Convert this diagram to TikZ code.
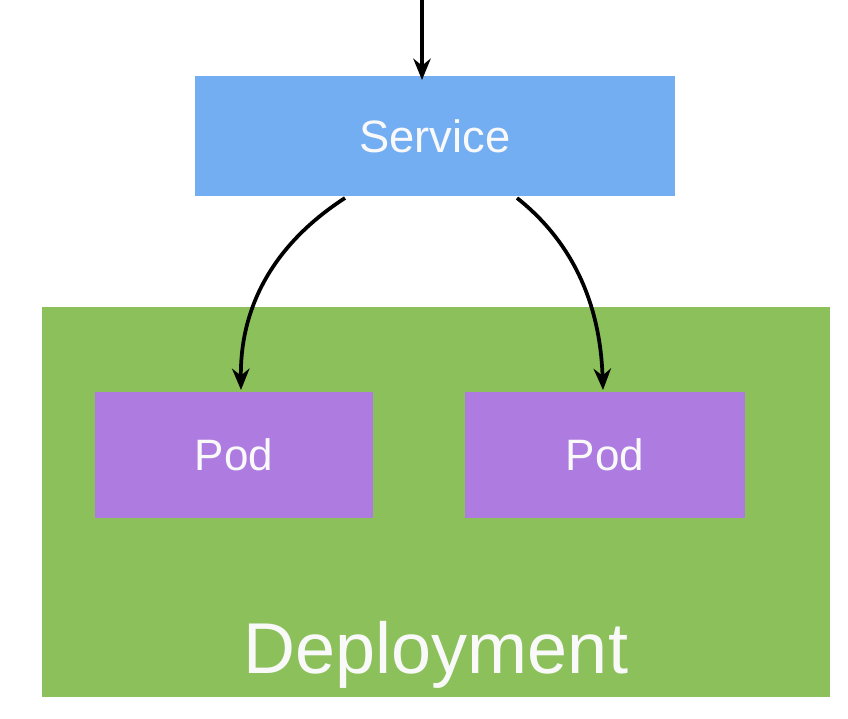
\documentclass[tikz,border=0pt]{standalone}
\usepackage{fontspec}
\setmainfont{Liberation Sans}
\usetikzlibrary{arrows.meta}
\begin{document}
\begin{tikzpicture}[x=0.75pt,y=-0.75pt,
  box/.style={draw=none,inner sep=0,text=white!95!gray},
  arr/.style={line width=2.8pt,-{Stealth[length=16pt,width=13pt]}}]
\fill[white] (0,0) rectangle (848,718);
\useasboundingbox (0,0) rectangle (848,718);
\node[box,fill={rgb,255:red,116;green,174;blue,242},minimum width=360pt,minimum height=90pt,font=\fontsize{34}{40}\selectfont] (svc) at (435,136) {Service};
\node[box,fill={rgb,255:red,139;green,192;blue,90},minimum width=591pt,minimum height=292.5pt] (dep) at (436,502) {};
\node[text=white!95!gray,font=\fontsize{54}{64}\selectfont] (deplabel) at (436,655) {Deployment};
\node[box,fill={rgb,255:red,174;green,123;blue,224},minimum width=208.5pt,minimum height=94.5pt,font=\fontsize{33}{40}\selectfont] (pod1) at (234,455) {Pod};
\node[box,fill={rgb,255:red,174;green,123;blue,224},minimum width=210pt,minimum height=94.5pt,font=\fontsize{33}{40}\selectfont] (pod2) at (605,455) {Pod};
\coordinate (top) at (422,0);
\draw[arr] (top) -- (422,80);
\draw[arr] (345,198) .. controls (280,240) and (240,300) .. (241,390);
\draw[arr] (517,198) .. controls (570,240) and (600,300) .. (603,390);
\end{tikzpicture}
\end{document}
